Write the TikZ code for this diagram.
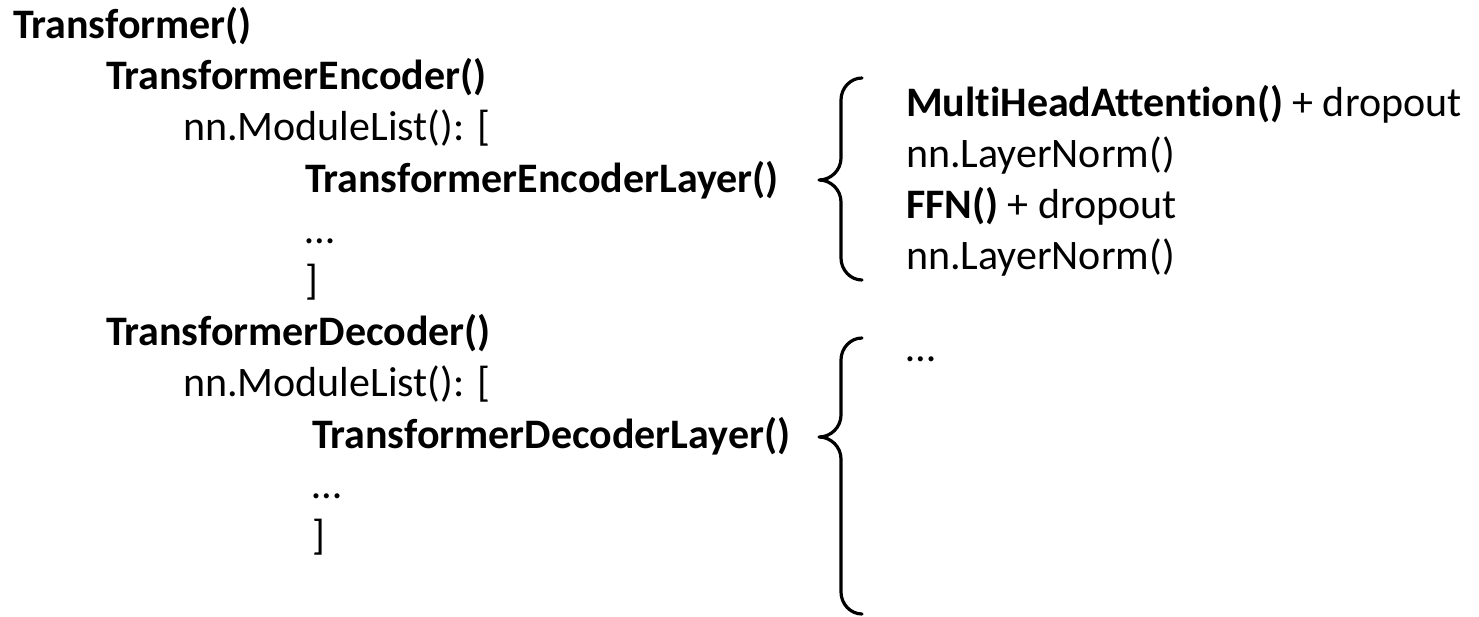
\documentclass[tikz,border=0pt]{standalone}
\usepackage{fontspec}
\setmainfont{Carlito}[Ligatures={NoCommon}]
\begin{document}
\begin{tikzpicture}[x=1pt, y=-1pt,
  code/.style={anchor=base west, inner sep=0pt, outer sep=0pt,
               font=\fontsize{42}{50}\selectfont},
  curly/.style={line width=3.2pt, line cap=round, line join=round}]
\useasboundingbox (0,0) rectangle (1479,616);

% module tree
\node[code] (tr)       at (13,38)   {\textbf{Transformer()}};
\node[code] (enc)      at (106,89)  {\textbf{TransformerEncoder()}};
\node[code] (encml)    at (183,140) {nn.ModuleList(): [};
\node[code] (enclayer) at (305,192) {\textbf{TransformerEncoderLayer()}};
\node[code] (encdots)  at (305,243) {…};
\node[code] (encclose) at (305,294) {]};
\node[code] (dec)      at (106,345) {\textbf{TransformerDecoder()}};
\node[code] (decml)    at (183,396) {nn.ModuleList(): [};
\node[code] (declayer) at (312,448) {\textbf{TransformerDecoderLayer()}};
\node[code] (decdots)  at (312,498) {…};
\node[code] (decclose) at (312,549) {]};

% contents of one encoder layer
\node[code] (mha) at (906,116) {\textbf{MultiHeadAttention()} + dropout};
\node[code] (ln1) at (906,167) {nn.LayerNorm()};
\node[code] (ffn) at (906,218) {\textbf{FFN()} + dropout};
\node[code] (ln2) at (906,269) {nn.LayerNorm()};

% contents of one decoder layer
\node[code] (decbody) at (906,361) {…};

% brace for the encoder layer
\coordinate (b1tip) at (819,180);
\draw[curly] (862,78) .. controls (850.5,78) and (841,88) .. (841,100)
  -- (841,158) .. controls (841,170) and (831,180) .. (b1tip)
  .. controls (831,180) and (841,190) .. (841,202)
  -- (841,258) .. controls (841,270) and (850.5,280) .. (862,280);

% brace for the decoder layer
\coordinate (b2tip) at (819,437);
\draw[curly] (862,338) .. controls (850.5,338) and (841,348) .. (841,360)
  -- (841,415) .. controls (841,427) and (831,437) .. (b2tip)
  .. controls (831,437) and (841,447) .. (841,459)
  -- (841,592) .. controls (841,604) and (850.5,614) .. (862,614);
\end{tikzpicture}
\end{document}
